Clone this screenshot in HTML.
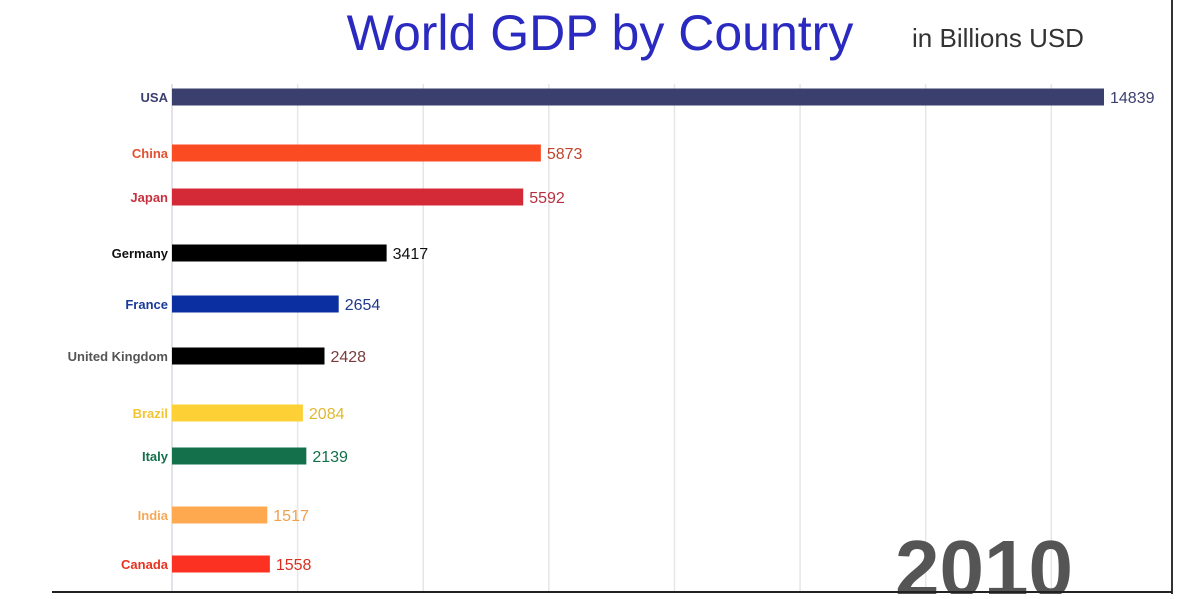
<!DOCTYPE html>
<html><head><meta charset="utf-8">
<style>
html,body{margin:0;padding:0;background:#fff;}
body{width:1200px;height:594px;overflow:hidden;font-family:"Liberation Sans",sans-serif;}
</style></head>
<body>
<svg width="1200" height="594" viewBox="0 0 1200 594" xmlns="http://www.w3.org/2000/svg">
  <text x="600" y="50" font-size="50" fill="#2a2ac0" text-anchor="middle" font-family="Liberation Sans, sans-serif">World GDP by Country</text>
  <text x="998" y="47" font-size="26" fill="#333" text-anchor="middle">in Billions USD</text>
  <g id="grid"></g>
  <g id="bars"></g>
  <text x="984" y="596" font-size="80" font-weight="bold" fill="#555" text-anchor="middle">2010</text>
  <line x1="1172" y1="0" x2="1172" y2="594" stroke="#333" stroke-width="2"/>
  <line x1="52" y1="592" x2="1172" y2="592" stroke="#222" stroke-width="2"/>
</svg>
<script>
const countries = ["USA","China","Japan","Germany","France","United Kingdom","Brazil","Italy","India","Canada"];
const values = [14839,5873,5592,3417,2654,2428,2084,2139,1517,1558];
const rowCenters = [97,153,197,253,304,356,413,456,515,564];
const barColors = ["#3b3f6e","#fb4b22","#d42a37","#000000","#0b2fa0","#000000","#fdd136","#13704a","#fea850","#fd3121"];
const labelColors = ["#3b3f6e","#e5502f","#c8303e","#111111","#1a3a9a","#555555","#f0c531","#13704a","#f5a957","#e8321f"];
const valueColors = ["#3b3f6e","#c0442c","#b83040","#111111","#1f3a8a","#7a3a3a","#e0b830","#13704a","#f0a050","#d8301f"];
const gridTicks = [0,2000,4000,6000,8000,10000,12000,14000];

const X0 = 172, PX = (1104-172)/14839, BH = 17;
const xs = v => X0 + v*PX;
const NS = "http://www.w3.org/2000/svg";
const grid = document.getElementById('grid');
gridTicks.forEach(t=>{
  const l = document.createElementNS(NS,'line');
  
  
  l.setAttribute('x1',xs(t));l.setAttribute('x2',xs(t));
  l.setAttribute('y1',84);l.setAttribute('y2',592);
  l.setAttribute('stroke',t===0?'#d8d8e0':'#e6e6e6');l.setAttribute('stroke-width',1.5);
  grid.appendChild(l);
});
const g = document.getElementById('bars');
countries.forEach((c,i)=>{
  const y = rowCenters[i];
  const r = document.createElementNS(NS,'rect');
  
  
  r.setAttribute('x',X0);r.setAttribute('y',y-BH/2);
  r.setAttribute('width',xs(values[i])-X0);r.setAttribute('height',BH);
  r.setAttribute('fill',barColors[i]);
  g.appendChild(r);
  const lb = document.createElementNS(NS,'text');
  
  
  lb.setAttribute('x',X0-4);lb.setAttribute('y',y+5);
  lb.setAttribute('text-anchor','end');lb.setAttribute('font-size','13');
  lb.setAttribute('font-weight','bold');lb.setAttribute('fill',labelColors[i]);
  lb.textContent=c;g.appendChild(lb);
  const vl = document.createElementNS(NS,'text');
  
  
  vl.setAttribute('x',xs(values[i])+6);vl.setAttribute('y',y+6);
  vl.setAttribute('font-size','16');vl.setAttribute('fill',valueColors[i]);
  vl.textContent=values[i];g.appendChild(vl);
});
</script>
</body></html>
